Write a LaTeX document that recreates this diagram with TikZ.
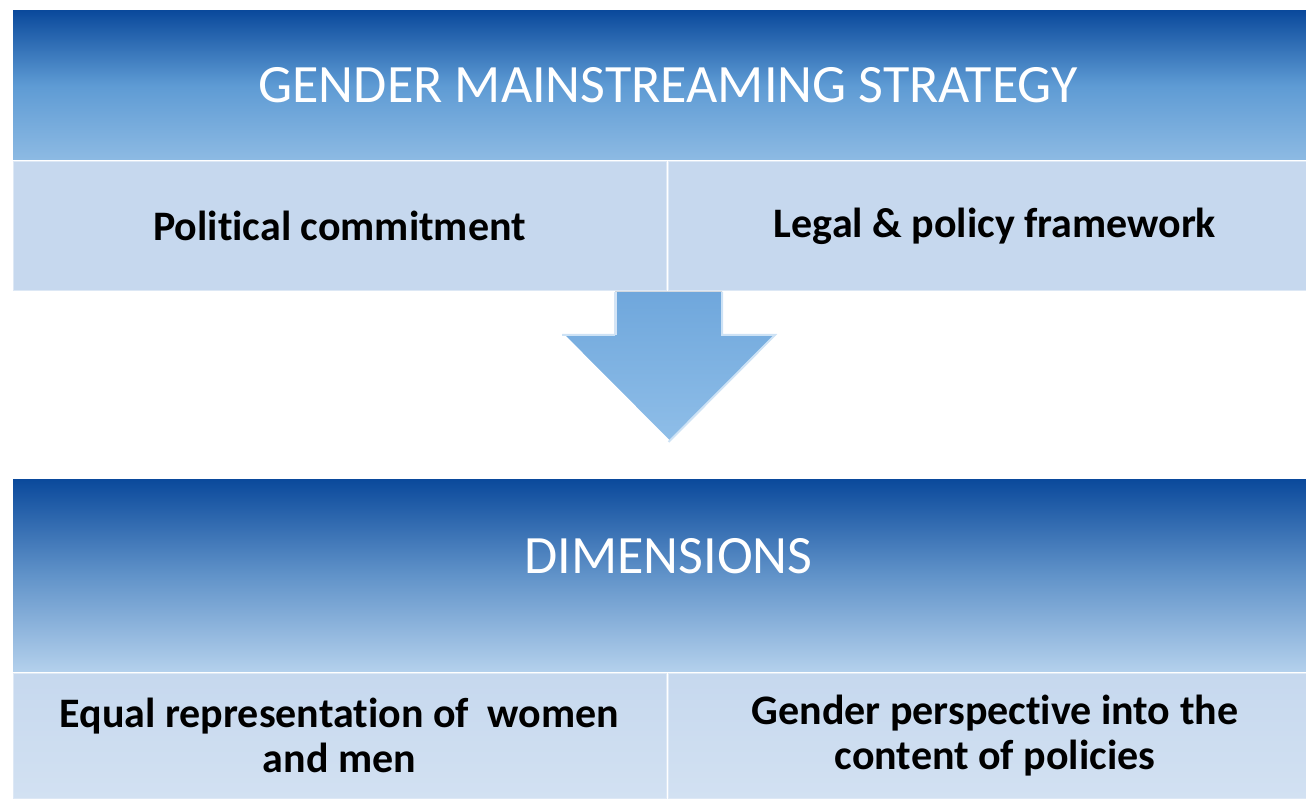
\documentclass[tikz,border=0pt]{standalone}
\usepackage{fontspec}
\setmainfont{Carlito}[Ligatures=NoCommon]

\definecolor{headtop}{HTML}{0B4A9C}
\definecolor{headmid}{HTML}{5E9BD4}
\definecolor{headbot}{HTML}{8DBAE3}
\definecolor{dimmid}{HTML}{6193C9}
\definecolor{dimbot}{HTML}{B3D0EC}
\definecolor{cellfill}{HTML}{C6D8EE}
\definecolor{celllow}{HTML}{D2E1F2}
\definecolor{cellline}{HTML}{DDE8F5}
\definecolor{arrowtop}{HTML}{6FA7DC}
\definecolor{arrowbot}{HTML}{8FBEE8}

\begin{document}
\begin{tikzpicture}[x=0.5pt,y=0.5pt,
  head box/.style={rectangle,inner sep=0pt,minimum width=655pt,
    top color=headtop,bottom color=headbot,middle color=headmid,
    text=white,font=\fontsize{27}{33}\selectfont},
  dim box/.style={head box,middle color=dimmid,bottom color=dimbot,middle color=dimmid},
  cell/.style={rectangle,inner sep=0pt,draw=cellline,thin,
    minimum width=326.5pt,top color=cellfill,bottom color=cellfill,
    font=\bfseries\fontsize{21}{22.5}\selectfont,align=center},
  low cell/.style={cell,bottom color=celllow}]

  \useasboundingbox (0,0) rectangle (1306,798);

  % upper block
  \node[head box,minimum height=74.5pt] (strategy) at (668,712.5) {GENDER MAINSTREAMING STRATEGY};
  \node[cell,minimum height=64.5pt] (political) at (339.5,572) {Political commitment};
  \node[cell,minimum height=64.5pt] (legal) at (995,572) {Legal \& policy framework};

  % arrow between the blocks
  \coordinate (a1) at (615,506);
  \coordinate (a2) at (615,463);
  \coordinate (a3) at (562,463);
  \coordinate (tip) at (668.5,356);
  \coordinate (a5) at (775,463);
  \coordinate (a6) at (722,463);
  \coordinate (a7) at (722,506);
  \fill[top color=arrowtop,bottom color=arrowbot] (a1) -- (a2) -- (a3) -- (tip) -- (a5) -- (a6) -- (a7) -- cycle;
  \draw[white!70!arrowtop,line width=1.5pt] (a1) -- (a2);
  \draw[white,line width=2pt] (a3) -- (tip);
  \draw[white!55!arrowbot,line width=1pt] (a2) -- (a3) (tip) -- (a5) -- (a6) -- (a7);

  % lower block
  \node[dim box,minimum height=95.5pt] (dims) at (668,222.5) {};
  \node[text=white,font=\fontsize{27}{33}\selectfont] (dimlabel) at (668.5,242) {DIMENSIONS};
  \node[low cell,minimum height=62.5pt] (equal) at (339.5,62.5) {Equal representation of \ women\\and men};
  \node[low cell,minimum height=62.5pt] (perspective) at (995,62.5) {Gender perspective into the\\content of policies};

\end{tikzpicture}
\end{document}
